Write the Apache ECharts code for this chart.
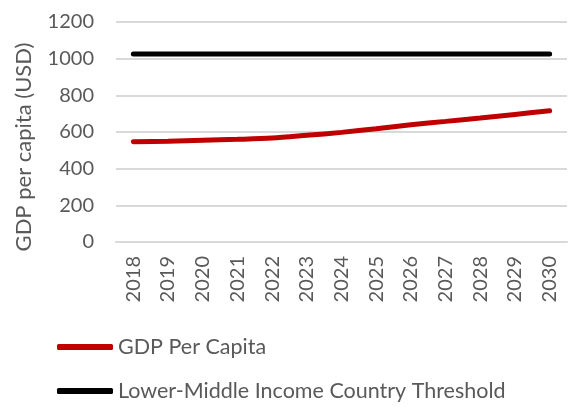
<!DOCTYPE html>
<html>
<head>
<meta charset="utf-8">
<script src="https://cdn.jsdelivr.net/npm/echarts@6/dist/echarts.min.js"></script>
<style>html,body{margin:0;padding:0;background:#fff}#c{width:571px;height:407px}</style>
</head>
<body>
<div id="c"></div>
<script>
const years = ['2018','2019','2020','2021','2022','2023','2024','2025','2026','2027','2028','2029','2030'];
const gdpPerCapita = [547, 550, 555, 560, 567, 582, 598, 618, 640, 658, 676, 696, 716];
const lmicThreshold = [1025, 1025, 1025, 1025, 1025, 1025, 1025, 1025, 1025, 1025, 1025, 1025, 1025];
const yTicks = [0, 200, 400, 600, 800, 1000, 1200];
const yTitle = 'GDP per capita (USD)';
const seriesNames = ['GDP Per Capita', 'Lower-Middle Income Country Threshold'];

const FONT = 'Lato';
const GRAY = '#595959';
const RED = '#c00000';
const BLACK = '#000000';
const chart = echarts.init(document.getElementById('c'), null, {renderer: 'canvas'});
const legendCommon = {
  left: 57, padding: 0, itemWidth: 56, itemHeight: 6, icon: 'roundRect', itemGap: 0,
  textStyle: {fontFamily: FONT, fontSize: 21.5, color: GRAY}
};
chart.setOption({
  animation: false,
  textStyle: {fontFamily: FONT},
  grid: {left: 116, right: 4, top: 22, bottom: 165},
  legend: [
    Object.assign({}, legendCommon, {top: 336, data: [seriesNames[0]]}),
    Object.assign({}, legendCommon, {top: 380, data: [seriesNames[1]]})
  ],
  graphic: [{
    type: 'text', x: 24, y: 147, rotation: Math.PI / 2,
    style: {text: yTitle, fill: GRAY, font: '22px ' + FONT, align: 'center', verticalAlign: 'middle'}
  }],
  xAxis: {
    type: 'category', data: years, boundaryGap: true,
    axisLine: {lineStyle: {color: '#d9d9d9', width: 2}},
    axisTick: {show: false},
    axisLabel: {rotate: 90, color: GRAY, fontSize: 20, fontFamily: FONT, margin: 14}
  },
  yAxis: {
    type: 'value', min: yTicks[0], max: yTicks[yTicks.length-1], interval: 200,
    axisLine: {show: false}, axisTick: {show: false},
    splitLine: {lineStyle: {color: '#d9d9d9', width: 2}},
    axisLabel: {color: GRAY, fontSize: 20, fontFamily: FONT, margin: 22, formatter: v => String(v)}
  },
  series: [
    {name: seriesNames[0], type: 'line', data: gdpPerCapita, smooth: 0.3, symbol: 'none',
     lineStyle: {color: RED, width: 5, cap: 'round'}, itemStyle: {color: RED}},
    {name: seriesNames[1], type: 'line', data: lmicThreshold, symbol: 'none',
     lineStyle: {color: BLACK, width: 5, cap: 'round'}, itemStyle: {color: BLACK}}
  ]
});
</script>
</body>
</html>
